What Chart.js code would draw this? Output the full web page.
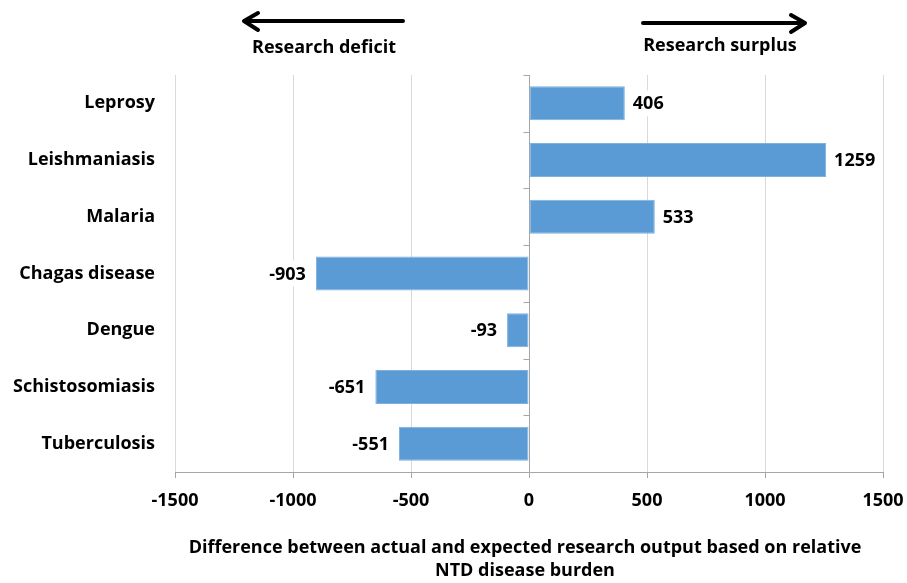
<!DOCTYPE html>
<html>
<head>
<meta charset="utf-8">
<script src="https://cdn.jsdelivr.net/npm/chart.js@4"></script>
<style>
  html, body { margin: 0; padding: 0; background: #fff; }
  #wrap { width: 907px; height: 583px; position: relative; }
</style>
</head>
<body>
<div id="wrap"><canvas id="ntdChart"></canvas></div>
<script>
const diseases = ['Leprosy', 'Leishmaniasis', 'Malaria', 'Chagas disease', 'Dengue', 'Schistosomiasis', 'Tuberculosis'];
const researchGap = [406, 1259, 533, -903, -93, -651, -551];
const xTicks = [-1500, -1000, -500, 0, 500, 1000, 1500];
const axisTitle = ['Difference between actual and expected research output based on relative', 'NTD disease burden'];
const arrowLabels = ['Research deficit', 'Research surplus'];

const FONT = '"Open Sans", Lato, sans-serif';
const FSIZE = 18;

// value labels next to the bar ends
const valueLabels = {
    id: 'valueLabels',
    afterDatasetsDraw(chart) {
        const ctx = chart.ctx;
        const meta = chart.getDatasetMeta(0);
        ctx.save();
        ctx.font = 'bold ' + FSIZE + 'px ' + FONT;
        ctx.textBaseline = 'middle';
        meta.data.forEach((bar, i) => {
            const v = researchGap[i];
            const txt = String(v);
            const w = ctx.measureText(txt).width;
            const x = v >= 0 ? bar.x + 8 : bar.x - 10 - w;
            ctx.fillStyle = '#fff';
            ctx.fillRect(x - 3, bar.y - 13, w + 6, 26);
            ctx.fillStyle = '#000';
            ctx.textAlign = 'left';
            ctx.fillText(txt, x, bar.y + 1);
        });
        ctx.restore();
    }
};

// zero axis line with category tick marks, arrows and x title
const decorations = {
    id: 'decorations',
    beforeDatasetsDraw(chart) {
        const ctx = chart.ctx;
        const xs = chart.scales.x;
        const ys = chart.scales.y;
        const x0 = Math.round(xs.getPixelForValue(0)) + 0.5;
        ctx.save();
        ctx.strokeStyle = '#a6a6a6';
        ctx.lineWidth = 1;
        ctx.beginPath();
        ctx.moveTo(x0, ys.top);
        ctx.lineTo(x0, ys.bottom);
        const n = diseases.length;
        for (let i = 0; i <= n; i++) {
            const y = Math.round(ys.top + (ys.bottom - ys.top) * i / n) + 0.5;
            ctx.moveTo(x0 - 6, y);
            ctx.lineTo(x0, y);
        }
        ctx.stroke();
        ctx.restore();
    },
    afterDraw(chart) {
        const ctx = chart.ctx;
        const xs = chart.scales.x;
        ctx.save();
        ctx.strokeStyle = '#000';
        ctx.fillStyle = '#000';
        ctx.lineWidth = 4;
        ctx.lineCap = 'round';
        ctx.lineJoin = 'round';
        // left arrow
        ctx.beginPath();
        ctx.moveTo(403, 21);
        ctx.lineTo(245, 21);
        ctx.moveTo(258, 13);
        ctx.lineTo(244, 21);
        ctx.lineTo(258, 30);
        ctx.stroke();
        // right arrow
        ctx.beginPath();
        ctx.moveTo(643, 23);
        ctx.lineTo(805, 23);
        ctx.moveTo(791, 15);
        ctx.lineTo(805, 23);
        ctx.lineTo(791, 32);
        ctx.stroke();

        ctx.font = 'bold ' + FSIZE + 'px ' + FONT;
        ctx.textAlign = 'center';
        ctx.textBaseline = 'middle';
        ctx.fillText(arrowLabels[0], 324, 48);
        ctx.fillText(arrowLabels[1], 720, 46);

        const cx = (xs.left + xs.right) / 2;
        ctx.fillText(axisTitle[0], cx - 4, 548);
        ctx.fillText(axisTitle[1], cx - 4, 571);
        ctx.restore();
    }
};

new Chart(document.getElementById('ntdChart'), {
    type: 'bar',
    data: {
        labels: diseases,
        datasets: [{
            data: researchGap,
            backgroundColor: '#5b9bd5',
            borderColor: '#7eb0e0',
            borderWidth: 1,
            borderSkipped: false,
            categoryPercentage: 1,
            barPercentage: 0.6
        }]
    },
    options: {
        indexAxis: 'y',
        responsive: true,
        maintainAspectRatio: false,
        animation: false,
        layout: { padding: { top: 75, right: 24, bottom: 0, left: 0 } },
        plugins: {
            legend: { display: false },
            tooltip: { enabled: false }
        },
        scales: {
            x: {
                min: -1500,
                max: 1500,
                afterBuildTicks(scale) {
                    scale.ticks = xTicks.map(v => ({ value: v }));
                },
                afterFit(scale) {
                    scale.height = 111;
                    scale.paddingLeft = 0;
                    scale.paddingRight = 0;
                },
                grid: { color: '#d9d9d9', tickLength: 6, tickColor: '#a6a6a6' },
                border: { color: '#a6a6a6' },
                ticks: {
                    color: '#000',
                    padding: 12,
                    callback: v => String(v),
                    font: { family: FONT, size: FSIZE, weight: 'bold' }
                }
            },
            y: {
                afterFit(scale) { scale.width = 175; },
                grid: { display: false },
                border: { display: false },
                ticks: {
                    color: '#000',
                    padding: 12,
                    font: { family: FONT, size: FSIZE, weight: 'bold' }
                }
            }
        }
    },
    plugins: [decorations, valueLabels]
});
</script>
</body>
</html>
